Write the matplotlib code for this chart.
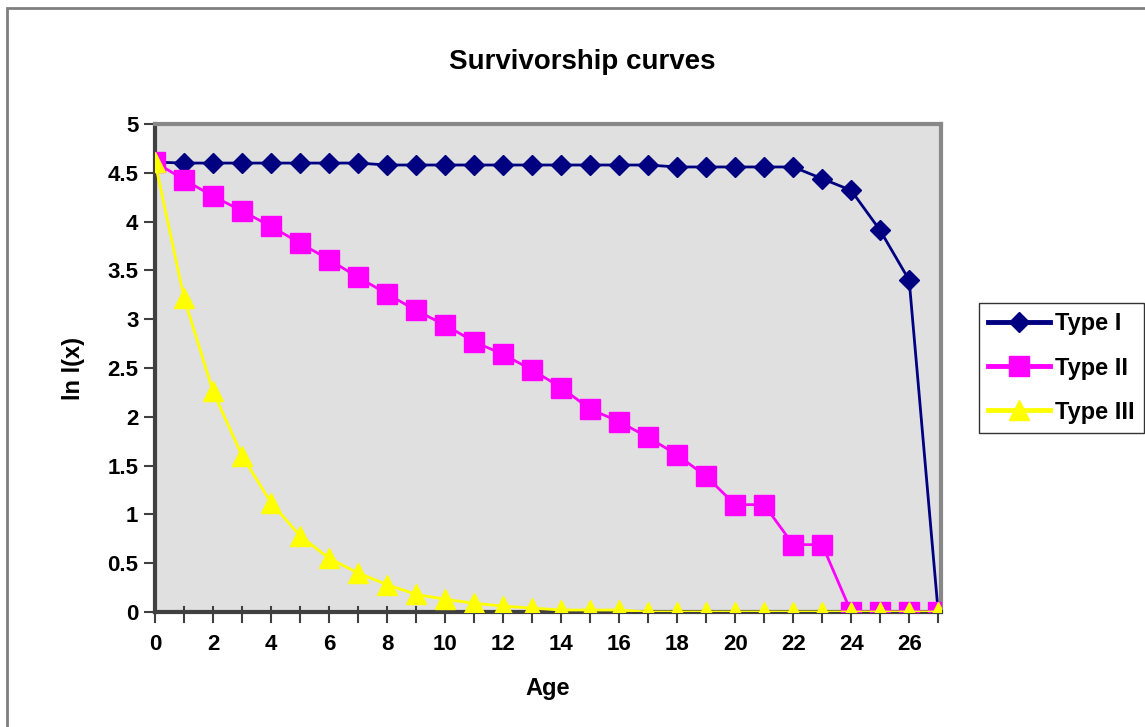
import numpy as np
import matplotlib.pyplot as plt
from matplotlib.patches import Rectangle

# ln of survivors per age class for the three curve types
age = list(range(28))
type_1 = [4.61, 4.60, 4.60, 4.60, 4.60, 4.60, 4.60, 4.60, 4.58, 4.58,
          4.58, 4.58, 4.58, 4.58, 4.58, 4.58, 4.58, 4.58, 4.56, 4.56,
          4.56, 4.56, 4.56, 4.44, 4.32, 3.91, 3.40, 0.0]
type_2 = [4.61, 4.43, 4.26, 4.11, 3.95, 3.78, 3.61, 3.43, 3.26, 3.09,
          2.94, 2.77, 2.64, 2.48, 2.30, 2.08, 1.95, 1.79, 1.61, 1.39,
          1.10, 1.10, 0.69, 0.69, 0.0, 0.0, 0.0, 0.0]
type_3 = [4.61, 3.22, 2.26, 1.60, 1.12, 0.78, 0.55, 0.40, 0.28, 0.18,
          0.13, 0.09, 0.06, 0.04, 0.02, 0.02, 0.02, 0.0, 0.0, 0.0,
          0.0, 0.0, 0.0, 0.0, 0.0, 0.0, 0.0, 0.0]

plt.rcParams['font.family'] = ['Liberation Sans', 'DejaVu Sans']
plt.rcParams['font.weight'] = 'bold'

fig = plt.figure(figsize=(11.45, 7.27), dpi=100)
ax = fig.add_axes([0.1354, 0.1582, 0.6865, 0.6712])
ax.set_facecolor('#e0e0e0')

# outer chart border
fig.patches.append(Rectangle((7 / 1145, -0.01), 1.1, 1 - 8 / 727 + 0.01,
                             transform=fig.transFigure, fill=False,
                             edgecolor='#808080', linewidth=2))

ax.plot(age, type_1, color='#000080', lw=2, marker='D', markersize=10.5,
        label='Type I', zorder=3)
ax.plot(age, type_2, color='#ff00ff', lw=2, marker='s', markersize=14,
        label='Type II', zorder=4)
ax.plot(age, type_3, color='#ffff00', lw=2, marker='^', markersize=15,
        label='Type III', zorder=5)

ax.set_xlim(0, 27.1)
ax.set_ylim(0, 5)
ax.set_xticks(age)
ax.set_xticklabels([str(a) if a % 2 == 0 else '' for a in age])
ax.set_yticks(np.arange(0, 5.01, 0.5))
ax.set_yticklabels(['0', '0.5', '1', '1.5', '2', '2.5', '3', '3.5', '4', '4.5', '5'])
ax.tick_params(labelsize=16, length=8, width=1.5, color='#404040', pad=4)
ax.tick_params(axis='x', direction='in', length=0, pad=16)
# x tick marks cross the axis line
for a in age:
    ax.plot([a, a], [-0.1, 0.05], color='#404040', lw=1.5, clip_on=False, zorder=2)

for side in ('left', 'bottom'):
    ax.spines[side].set_color('#404040')
    ax.spines[side].set_linewidth(3)
for side in ('top', 'right'):
    ax.spines[side].set_color('#888888')
    ax.spines[side].set_linewidth(3)

ax.set_xlabel('Age', fontsize=17, fontweight='bold', labelpad=16)
ax.set_ylabel('ln l(x)', fontsize=17, fontweight='bold', labelpad=16)
fig.text(582 / 1145, 1 - 62 / 727, 'Survivorship curves', fontsize=20,
         fontweight='bold', ha='center', va='center')

leg = ax.legend(loc='center left', bbox_to_anchor=(979 / 1145, 1 - 368 / 727),
                bbox_transform=fig.transFigure, fontsize=17, frameon=True,
                fancybox=False, edgecolor='black', handlelength=2.6,
                borderpad=0.4, labelspacing=0.9, handletextpad=0.2,
                borderaxespad=0)
leg.get_frame().set_linewidth(1)
for line in leg.get_lines():
    line.set_linewidth(3.5)

fig.savefig('out.png', dpi=100)
